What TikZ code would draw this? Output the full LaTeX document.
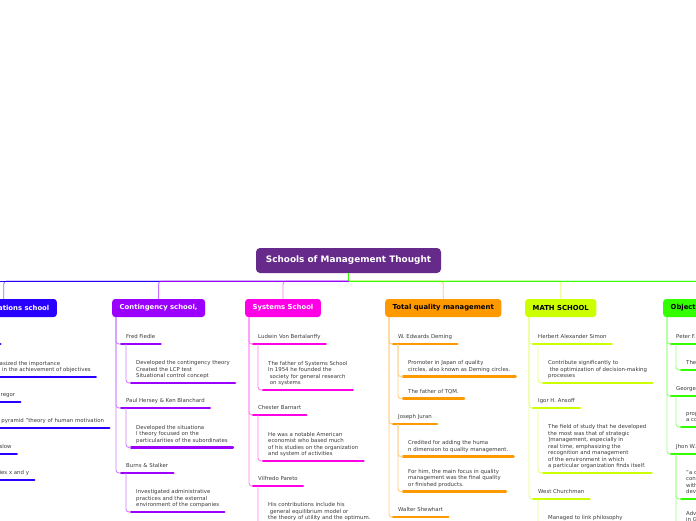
\documentclass[tikz,border=0pt]{standalone}
\usepackage{fontspec}
\setmainfont{DejaVu Sans}
\definecolor{cRoot}{RGB}{102,42,138}
\definecolor{cBlue}{RGB}{40,0,255}
\definecolor{cPurp}{RGB}{155,0,255}
\definecolor{cMag}{RGB}{255,0,230}
\definecolor{cOr}{RGB}{255,153,0}
\definecolor{cYel}{RGB}{204,255,0}
\definecolor{cGrn}{RGB}{51,255,0}
\definecolor{cTxt}{RGB}{60,60,60}
\newcommand\ls{\hspace*{1.7pt}}
\newcommand\mitem[5]{%
  \node[itm, anchor=south west] (#1) at (#2,#3-5) {#5};
  \coordinate (#1-u) at ([yshift=-5pt]#1.south west);
  \draw[uline=#4] (#1-u) -- ([yshift=-5pt]#1.south east);
}
\begin{document}
\begin{tikzpicture}[x=1pt,y=-1pt,
  root/.style={fill=cRoot, text=white, rounded corners=4pt, minimum width=185pt,
    minimum height=25pt, inner sep=0pt, font=\bfseries\fontsize{8.9}{10}\selectfont},
  lvl/.style={fill=#1, rounded corners=3pt, minimum height=18pt, inner xsep=7.5pt,
    inner ysep=0pt, anchor=west, font=\bfseries\fontsize{6.85}{8}\selectfont},
  itm/.style={align=left, inner xsep=5pt, inner ysep=0pt, text depth=0pt, text=cTxt,
    font=\fontsize{5.4}{6.55}\selectfont},
  uline/.style={draw=#1, line width=2.6pt, line cap=round},
  trunk/.style={draw=#1!50, line width=0.9pt, rounded corners=3pt},
  drop/.style={draw=#1!55, line width=0.9pt, rounded corners=3pt},
  bus/.style={draw=#1, line width=0.9pt}]
\clip (0,0) rectangle (696,520);
\fill[white] (0,0) rectangle (696,520);

% root and level-1 boxes
\node[root] (root) at (348.5,260.5) {Schools of Management Thought};
\coordinate (hub) at (348.5,281);
\coordinate (busL) at (-10,281);
\coordinate (busR) at (706,281);
\node[lvl=cBlue, text=white, anchor=east] (hr) at (57,308) {Human relations school};
\node[lvl=cPurp, text=white] (cs) at (112,308) {Contingency school,};
\node[lvl=cMag, text=white] (ss) at (245,308) {Systems School};
\node[lvl=cOr, text=black] (tq) at (385,308) {Total quality management};
\node[lvl=cYel, text=black] (ms) at (525,308) {MATH SCHOOL};
\node[lvl=cGrn, text=black] (os) at (663,308) {Objectives school};

% connectors root -> schools
\draw[drop=cMag] (hub) -| (ss.north);
\draw[drop=cBlue] (hub) -| (hr.north);
\draw[drop=cPurp] (hub) -| (cs.north);
\draw[drop=cOr] (hub) -| (tq.north);
\draw[drop=cYel] (hub) -| (ms.north);
\draw[drop=cGrn] (hub) -| (os.north);
\draw[bus=cBlue] (busL) -- (cs.north |- hub);
\draw[bus=cPurp] (cs.north |- hub) -- (hub);
\draw[bus=cGrn] (hub) -- (busR);
\draw[bus=cGrn] (root.south) -- (hub);

% ---- Human relations school
\mitem{hr1}{-40}{344}{cBlue}{Elton Mayo}
\mitem{hr1a}{-30}{377}{cBlue}{He emphasized the importance\\of people in the achievement of objectives}
\mitem{hr2}{-40}{402}{cBlue}{Douglas McGregor}
\mitem{hr2a}{-30}{428}{cBlue}{Maslow's pyramid "theory of human motivation}
\mitem{hr3}{-40}{454}{cBlue}{Abraham Maslow}
\mitem{hr3a}{-30}{480}{cBlue}{His theories x and y}
\foreach \c in {hr1,hr2,hr3} \draw[trunk=cBlue] ([xshift=4pt]hr.south west) |- (\c-u);
\draw[trunk=cBlue] ([xshift=5pt]hr1-u) |- (hr1a-u);
\draw[trunk=cBlue] ([xshift=5pt]hr2-u) |- (hr2a-u);
\draw[trunk=cBlue] ([xshift=5pt]hr3-u) |- (hr3a-u);

% ---- Contingency school
\mitem{cf1}{121}{344}{cPurp}{Fred Fiedle}
\mitem{cf1a}{131}{383}{cPurp}{Developed the contingency theory\\Created the LCP test\\Situational control concept}
\mitem{cf2}{121}{408}{cPurp}{Paul Hersey \& Ken Blanchard}
\mitem{cf2a}{131}{447.5}{cPurp}{Developed the situationa\\l theory focused on the\\particularities of the subordinates}
\mitem{cf3}{121}{473}{cPurp}{Burns \& Stalker}
\mitem{cf3a}{131}{512}{cPurp}{Investigated administrative\\practices and the external\\environment of the companies}
\foreach \c in {cf1,cf2,cf3} \draw[trunk=cPurp] ([xshift=4pt]cs.south west) |- (\c-u);
\draw[trunk=cPurp] ([xshift=5pt]cf1-u) |- (cf1a-u);
\draw[trunk=cPurp] ([xshift=5pt]cf2-u) |- (cf2a-u);
\draw[trunk=cPurp] ([xshift=5pt]cf3-u) |- (cf3a-u);

% ---- Systems School
\mitem{ss1}{253}{344}{cMag}{Ludwin Von Bertalanffy}
\mitem{ss1a}{263}{390}{cMag}{The father of Systems School\\In 1954 he founded the\\\ls society for general research\\\ls on systems}
\mitem{ss2}{253}{415}{cMag}{Chester Barnart}
\mitem{ss2a}{263}{461}{cMag}{He was a notable American\\economist who based much\\of his studies on the organization\\and system of activities}
\mitem{ss3}{253}{486}{cMag}{Vilfredo Pareto}
\mitem{ss3a}{263}{525}{cMag}{His contributions include his\\\ls general equilibrium model or\\the theory of utility and the optimum.}
\foreach \c in {ss1,ss2,ss3} \draw[trunk=cMag] ([xshift=4pt]ss.south west) |- (\c-u);
\draw[trunk=cMag] ([xshift=5pt]ss1-u) |- (ss1a-u);
\draw[trunk=cMag] ([xshift=5pt]ss2-u) |- (ss2a-u);
\draw[trunk=cMag] ([xshift=5pt]ss3-u) |- (ss3a-u);

% ---- Total quality management
\mitem{tq1}{393}{344}{cOr}{W. Edwards Deming}
\mitem{tq1a}{403}{376.7}{cOr}{Promoter in Japan of quality\\circles, also known as Deming circles.}
\mitem{tq1b}{403}{398.7}{cOr}{The father of TQM.}
\mitem{tq2}{393}{424}{cOr}{Joseph Juran}
\mitem{tq2a}{403}{456.7}{cOr}{Credited for adding the huma\\n dimension to quality management.}
\mitem{tq2b}{403}{491.7}{cOr}{For him, the main focus in quality\\management was the final quality\\or finished products.}
\mitem{tq3}{393}{517}{cOr}{Walter Shewhart}
\foreach \c in {tq1,tq2,tq3} \draw[trunk=cOr] ([xshift=4pt]tq.south west) |- (\c-u);
\draw[trunk=cOr] ([xshift=5pt]tq1-u) |- (tq1a-u);
\draw[trunk=cOr] ([xshift=5pt]tq1-u) |- (tq1b-u);
\draw[trunk=cOr] ([xshift=5pt]tq2-u) |- (tq2a-u);
\draw[trunk=cOr] ([xshift=5pt]tq2-u) |- (tq2b-u);

% ---- MATH SCHOOL
\mitem{ms1}{533}{344}{cYel}{Herbert Alexander Simon}
\mitem{ms1a}{543}{383}{cYel}{Contribute significantly to\\\ls the optimization of decision-making\\processes}
\mitem{ms2}{533}{408}{cYel}{Igor H. Ansoff}
\mitem{ms2a}{543}{473}{cYel}{The field of study that he developed\\the most was that of strategic\\]management, especially in\\real time, emphasizing the\\recognition and management\\of the environment in which\\a particular organization finds itself.}
\mitem{ms3}{533}{499}{cYel}{West Churchman}
\mitem{ms3a}{543}{525}{cYel}{Managed to link philosophy}
\foreach \c in {ms1,ms2,ms3} \draw[trunk=cYel] ([xshift=4pt]ms.south west) |- (\c-u);
\draw[trunk=cYel] ([xshift=5pt]ms1-u) |- (ms1a-u);
\draw[trunk=cYel] ([xshift=5pt]ms2-u) |- (ms2a-u);
\draw[trunk=cYel] ([xshift=5pt]ms3-u) |- (ms3a-u);

% ---- Objectives school
\mitem{ob1}{671}{344}{cGrn}{Peter F. Drucker}
\mitem{ob1a}{681}{370}{cGrn}{The father of management by objectives}
\mitem{ob2}{671}{396}{cGrn}{George Odiorne}
\mitem{ob2a}{681}{427}{cGrn}{proposed management by objectives as\\a complete system}
\mitem{ob3}{671}{454}{cGrn}{Jhon W. Humble}
\mitem{ob3a}{681}{499}{cGrn}{"a dynamic system that seeks to\\connect the company's goals\\with the manager's need to\\develop himself"}
\mitem{ob3b}{681}{527}{cGrn}{Advocated management by objectives\\in Great Britain}
\foreach \c in {ob1,ob2,ob3} \draw[trunk=cGrn] ([xshift=4pt]os.south west) |- (\c-u);
\draw[trunk=cGrn] ([xshift=5pt]ob1-u) |- (ob1a-u);
\draw[trunk=cGrn] ([xshift=5pt]ob2-u) |- (ob2a-u);
\draw[trunk=cGrn] ([xshift=5pt]ob3-u) |- (ob3a-u);
\draw[trunk=cGrn] ([xshift=5pt]ob3-u) |- (ob3b-u);
\end{tikzpicture}
\end{document}
